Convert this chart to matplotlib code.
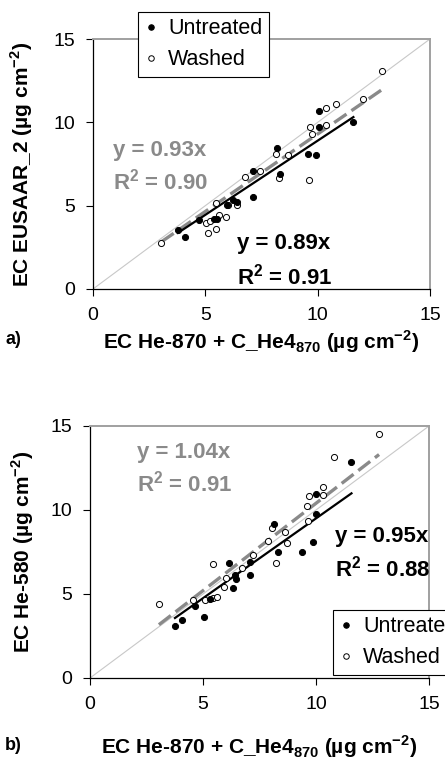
import numpy as np
import matplotlib.pyplot as plt

plt.rcParams['font.family'] = ['Liberation Sans', 'DejaVu Sans']
plt.rcParams['mathtext.fontset'] = 'custom'
plt.rcParams['mathtext.rm'] = 'Liberation Sans'
plt.rcParams['mathtext.bf'] = 'Liberation Sans:bold'

# panel a) EC EUSAAR_2 vs EC He-870 + C_He4_870
a_untreated_x = [3.78, 4.11, 4.70, 5.37, 5.51, 5.96, 6.22, 6.40, 7.10, 7.10, 8.18, 8.33, 9.59, 9.93, 10.06, 10.06, 11.59]
a_untreated_y = [3.51, 3.11, 4.15, 4.21, 4.21, 5.01, 5.31, 5.21, 5.51, 7.06, 8.46, 6.88, 8.12, 8.06, 10.69, 9.73, 9.99]
a_washed_x = [3.04, 5.48, 5.04, 5.19, 5.10, 5.48, 5.63, 5.93, 6.03, 6.43, 6.77, 7.44, 8.14, 8.30, 8.67,
              9.63, 9.66, 9.74, 10.36, 10.36, 10.82, 12.03, 12.85]
a_washed_y = [2.75, 5.15, 3.95, 4.05, 3.37, 3.57, 4.45, 4.31, 5.05, 5.05, 6.72, 7.06, 8.12, 6.66, 8.06,
              6.52, 9.73, 9.32, 10.87, 9.83, 11.07, 11.39, 13.09]
a_slope_untreated, a_r2_untreated = 0.89, 0.91
a_slope_washed, a_r2_washed = 0.93, 0.90

# panel b) EC He-580 vs EC He-870 + C_He4_870
b_untreated_x = [3.76, 4.08, 4.64, 5.04, 5.33, 6.16, 6.31, 6.41, 6.44, 7.07, 7.07, 8.13, 8.33, 9.36, 9.87, 10.02, 10.02, 11.57]
b_untreated_y = [3.12, 3.45, 4.29, 3.65, 4.72, 6.87, 5.38, 6.13, 5.87, 6.88, 6.13, 9.15, 7.48, 7.48, 8.12, 9.74, 10.93, 12.84]
b_washed_x = [3.05, 4.57, 5.45, 5.08, 5.45, 5.60, 5.92, 6.00, 6.73, 7.22, 7.88, 8.07, 8.25, 8.62, 8.72,
              9.58, 9.65, 9.69, 10.31, 10.31, 10.79, 12.79]
b_washed_y = [4.38, 4.64, 6.77, 4.64, 4.74, 4.84, 5.40, 5.97, 6.53, 7.32, 8.15, 8.91, 6.83, 8.71, 8.06,
              10.24, 9.35, 10.83, 11.39, 10.89, 13.17, 14.52]
b_slope_untreated, b_r2_untreated = 0.95, 0.88
b_slope_washed, b_r2_washed = 1.04, 0.91

ticks = [0, 5, 10, 15]
xlabel = 'EC He-870 + C_He4$_{\\mathbf{870}}$ (\u00b5g cm$^{\\mathbf{-2}}$)'
ylabel_a = 'EC EUSAAR_2 (\u00b5g cm$^{\\mathbf{-2}}$)'
ylabel_b = 'EC He-580 (\u00b5g cm$^{\\mathbf{-2}}$)'

GRAY = '#8a8a8a'
W, H = 445, 766


def panel(ax, ux, uy, wx, wy, su, ru, sw, rw, ylabel, xpad, ylab_x, txt_w, txt_u):
    ax.plot([0, 15], [0, 15], color='#c8c8c8', lw=0.8, zorder=1)
    # regression lines through the origin
    xw = np.array([min(wx), max(wx)])
    ax.plot(xw, sw * xw, color=GRAY, lw=2.4, linestyle=(0, (4.5, 1.8)), zorder=2)
    xu = np.array([min(ux), max(ux)])
    ax.plot(xu, su * xu, color='black', lw=1.6, zorder=3)
    ax.plot(wx, wy, 'o', ms=4.4, mfc='white', mec='black', mew=0.7, zorder=4, label='Washed')
    ax.plot(ux, uy, 'o', ms=4.4, mfc='black', mec='black', mew=0.7, zorder=5, label='Untreated')

    ax.set_xlim(0, 15)
    ax.set_ylim(0, 15)
    ax.set_xticks(ticks)
    ax.set_yticks(ticks)
    ax.tick_params(labelsize=14, length=5, width=0.8, pad=8, direction='out')
    for s in ['left', 'bottom']:
        ax.spines[s].set_color('black')
        ax.spines[s].set_linewidth(0.9)
    for s in ['top', 'right']:
        ax.spines[s].set_color('#a0a0a0')
        ax.spines[s].set_linewidth(1.4)
    ax.set_xlabel(xlabel, fontsize=15, fontweight='bold', labelpad=xpad)
    ax.set_ylabel(ylabel, fontsize=15, fontweight='bold')
    ax.yaxis.set_label_coords(ylab_x, 0.5)

    (xg, yg), (xb, yb) = txt_w, txt_u
    ax.text(xg, yg, 'y = %.2fx' % sw, color=GRAY, fontsize=16, fontweight='bold', va='center')
    ax.text(xg, yg - 1.85, 'R$^{\\mathbf{2}}$ = %.2f' % rw, color=GRAY, fontsize=16, fontweight='bold', va='center')
    ax.text(xb, yb, 'y = %.2fx' % su, color='black', fontsize=16, fontweight='bold', va='center')
    ax.text(xb, yb - 1.95, 'R$^{\\mathbf{2}}$ = %.2f' % ru, color='black', fontsize=16, fontweight='bold', va='center')


fig = plt.figure(figsize=(W / 100, H / 100), dpi=100)
ax_a = fig.add_axes([93 / W, 1 - 289 / H, 337 / W, 250 / H])
ax_b = fig.add_axes([90 / W, 1 - 678 / H, 339 / W, 252 / H])

panel(ax_a, a_untreated_x, a_untreated_y, a_washed_x, a_washed_y,
      a_slope_untreated, a_r2_untreated, a_slope_washed, a_r2_washed,
      ylabel_a, 3, -0.172, (0.9, 8.3), (6.4, 2.7))
panel(ax_b, b_untreated_x, b_untreated_y, b_washed_x, b_washed_y,
      b_slope_untreated, b_r2_untreated, b_slope_washed, b_r2_washed,
      ylabel_b, 15, -0.16, (2.1, 13.45), (10.85, 8.45))

for ax, anchor in [(ax_a, (138 / W, 1 - 12 / H)), (ax_b, (333 / W, 1 - 610 / H))]:
    h, l = ax.get_legend_handles_labels()
    leg = fig.legend(h[::-1], l[::-1], loc='upper left', bbox_to_anchor=anchor,
                     bbox_transform=fig.transFigure, fontsize=15.5, frameon=True,
                     fancybox=False, edgecolor='black', framealpha=1,
                     handlelength=0.6, handletextpad=0.5, borderpad=0.3,
                     labelspacing=0.45, borderaxespad=0, markerscale=0.9)
    leg.get_frame().set_linewidth(0.8)

fig.text(5 / W, 1 - 340 / H, 'a)', fontsize=13, fontweight='bold', va='center')
fig.text(5 / W, 1 - 745 / H, 'b)', fontsize=13, fontweight='bold', va='center')

fig.savefig('out.png', dpi=100)
